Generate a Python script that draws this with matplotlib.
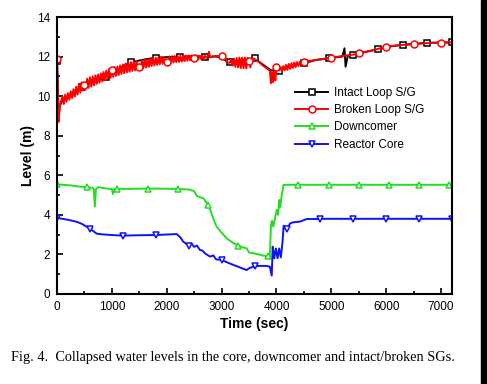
import matplotlib
matplotlib.use("Agg")
import matplotlib.pyplot as plt
from matplotlib.patches import Rectangle
from matplotlib.ticker import MultipleLocator

plt.rcParams['font.family'] = ['Liberation Sans', 'DejaVu Sans']

# ---------------- data ----------------
intact_t = [0, 30, 50, 100, 200, 300, 400, 450, 500, 600, 700, 800, 900, 1000,
            1100, 1200, 1350, 1500, 1650, 1800, 2000, 2250, 2500, 2700, 2900,
            3000, 3100, 3150, 3300, 3450, 3600, 3700, 3800, 3900, 4050, 4200,
            4350, 4500, 4700, 4950, 5200, 5240, 5260, 5300, 5400, 5600, 5850,
            6050, 6300, 6500, 6750, 7000, 7200]
intact_lvl = [11.8, 9.0, 9.5, 9.8, 10.0, 10.2, 10.35, 10.45, 10.5, 10.65, 10.75,
              10.85, 10.95, 11.1, 11.3, 11.5, 11.72, 11.8, 11.88, 11.93, 11.97,
              12.0, 12.02, 11.99, 12.0, 11.95, 11.75, 11.71, 11.8, 11.85, 11.91,
              11.7, 11.5, 11.3, 11.29, 11.45, 11.58, 11.65, 11.82, 11.91, 12.0,
              12.42, 11.49, 12.04, 12.08, 12.22, 12.37, 12.5, 12.6, 12.64, 12.7,
              12.71, 12.72]

# broken-loop S/G: sampled every 25 s where the trace oscillates
broken_t = ([0, 30, 50] + list(range(100, 2751, 25))
            + [2770, 2790, 2850, 2950, 3000, 3050, 3100]
            + list(range(3150, 3551, 25))
            + [3600, 3650, 3700, 3750, 3800, 3850, 3880, 3900, 3920, 3940,
               3960, 3980, 4000, 4025]
            + list(range(4050, 4451, 25))
            + [4500, 4600, 4800, 5000, 5200, 5400, 5500, 5800, 6000, 6250,
               6500, 6750, 7000, 7200])
broken_lvl = [11.88, 8.7, 9.5,
              10.0, 9.6, 10.08, 9.72, 10.15, 9.82, 10.25, 9.9, 10.35, 9.98,
              10.48, 10.08, 10.6, 10.18, 10.7, 10.28, 10.56, 10.38, 10.88, 10.42,
              10.95, 10.48, 11.0, 10.55, 11.05, 10.62, 11.1, 10.68, 11.15, 10.74,
              11.22, 10.8, 11.3, 10.87, 11.38, 10.92, 11.3, 10.97, 11.47, 11.02,
              11.5, 11.07, 11.55, 11.12, 11.6, 11.16, 11.65, 11.2, 11.7, 11.23,
              11.72, 11.27, 11.75, 11.3, 11.78, 11.33, 11.46, 11.38, 11.82, 11.41,
              11.85, 11.44, 11.87, 11.48, 11.9, 11.52, 11.92, 11.55, 11.95, 11.58,
              11.96, 11.61, 11.98, 11.63, 11.99, 11.65, 11.71, 11.67, 12.01, 11.68,
              12.02, 11.7, 12.02, 11.71, 12.03, 11.73, 12.04, 11.75, 12.05, 11.77,
              12.05, 11.79, 12.06, 11.81, 12.06, 11.82, 11.94, 11.84, 12.06, 11.85,
              12.05, 11.87, 12.05, 11.89, 12.04, 11.92, 12.0,
              12.25, 11.95, 12.02, 12.03, 12.03, 11.95, 11.72,
              11.68, 11.85, 11.55, 11.9, 11.48, 11.93, 11.45, 11.95, 11.42, 11.95,
              11.41, 11.95, 11.4, 11.93, 11.8, 11.45, 11.92,
              11.88, 11.78, 11.68, 11.55, 11.45, 11.35, 11.3, 10.65, 11.2, 10.7,
              11.3, 10.8, 11.49, 11.4,
              11.3, 11.45, 11.26, 11.52, 11.3, 11.58, 11.33, 11.63, 11.38, 11.67,
              11.42, 11.7, 11.47, 11.72, 11.52, 11.74, 11.58,
              11.74, 11.78, 11.86, 11.94, 12.03, 12.1, 12.16, 12.35, 12.5, 12.58,
              12.62, 12.68, 12.7, 12.72]

down_t = [0, 100, 200, 300, 400, 550, 650, 670, 690, 710, 750, 800, 900, 1000,
          1020, 1040, 1100, 1300, 1650, 2000, 2200, 2400, 2500, 2550, 2600,
          2667, 2750, 2800, 2850, 2910, 3000, 3093, 3200, 3300, 3400, 3456,
          3500, 3600, 3761, 3850, 3880, 3900, 3920, 3943, 3980, 4005, 4030,
          4053, 4070, 4096, 4130, 4200, 4400, 4950, 5500, 6050, 6600, 7150, 7200]
down_lvl = [5.54, 5.52, 5.5, 5.47, 5.43, 5.4, 5.36, 5.3, 4.42, 5.3, 5.4, 5.38,
            5.33, 5.3, 5.05, 5.3, 5.32, 5.31, 5.33, 5.32, 5.31, 5.28, 5.2, 4.95,
            4.9, 4.84, 4.5, 4.2, 3.8, 3.4, 3.1, 2.81, 2.6, 2.45, 2.35, 2.31, 2.1,
            2.05, 1.94, 1.9, 1.9, 3.5, 3.7, 3.4, 3.9, 4.25, 4.0, 4.75, 4.4, 5.0,
            5.51, 5.52, 5.52, 5.52, 5.52, 5.52, 5.52, 5.52, 5.52]

core_t = [0, 100, 200, 358, 450, 600, 650, 700, 723, 800, 1000, 1200, 1500,
          1800, 2182, 2250, 2303, 2400, 2450, 2500, 2550, 2607, 2650, 2700,
          2789, 2850, 2900, 3000, 3100, 3214, 3300, 3456, 3500, 3600, 3700,
          3822, 3880, 3914, 3932, 3960, 3990, 4020, 4050, 4080, 4110, 4131,
          4160, 4200, 4248, 4300, 4430, 4552, 4734, 4800, 5400, 6000, 6600, 7200]
core_lvl = [3.85, 3.8, 3.75, 3.65, 3.55, 3.3, 3.2, 3.1, 3.05, 3.02, 2.98, 2.95,
            2.97, 2.98, 3.03, 2.85, 2.64, 2.45, 2.55, 2.38, 2.45, 2.22, 2.2, 2.05,
            1.89, 1.95, 1.75, 1.72, 1.6, 1.47, 1.38, 1.21, 1.3, 1.41, 1.42, 1.42,
            1.38, 0.93, 2.39, 1.8, 2.3, 1.8, 2.3, 1.85, 2.6, 3.45, 3.3, 3.3, 3.57,
            3.62, 3.66, 3.79, 3.79, 3.8, 3.8, 3.8, 3.8, 3.8]

series = [
    ("Intact Loop S/G", intact_t, intact_lvl, 'black', 's', 450),
    ("Broken Loop S/G", broken_t, broken_lvl, 'red', 'o', 500),
    ("Downcomer", down_t, down_lvl, '#22dd22', '^', 550),
    ("Reactor Core", core_t, core_lvl, '#1010ff', 'v', 600),
]

caption = "Fig. 4.  Collapsed water levels in the core, downcomer and intact/broken SGs."

# ---------------- figure ----------------
fig = plt.figure(figsize=(4.87, 3.84), dpi=100)
ax = fig.add_axes([57/487, 1-294/384, (452-57)/487, (294-17)/384])

for label, t, y, c, m, step in series:
    every = [i for i, tv in enumerate(t) if tv % step == 0]
    ax.plot(t, y, color=c, lw=1.4, marker=m, markevery=every, ms=5,
            mfc='white', mec=c, mew=1.1, label=label)

ax.set_xlim(0, 7200)
ax.set_ylim(0, 14)
ax.xaxis.set_major_locator(MultipleLocator(1000))
ax.xaxis.set_minor_locator(MultipleLocator(500))
ax.yaxis.set_major_locator(MultipleLocator(2))
ax.yaxis.set_minor_locator(MultipleLocator(1))
ax.tick_params(which='both', direction='in', top=False, right=False,
               width=1.2, labelsize=8.5)
ax.tick_params(which='major', length=4, pad=5)
ax.tick_params(which='minor', length=2.5)
for s in ax.spines.values():
    s.set_linewidth(1.5)

ax.set_xlabel("Time (sec)", fontsize=10, fontweight='bold', labelpad=3)
ax.set_ylabel("Level (m)", fontsize=10, fontweight='bold', labelpad=1.5)

leg = ax.legend(loc='upper left', bbox_to_anchor=(0.603, 0.748), frameon=False,
                fontsize=8.5, handlelength=2.8, handletextpad=0.5,
                labelspacing=0.45, borderpad=0, borderaxespad=0)

fig.text(11/487, 1-357/384, caption, fontsize=10.3, va='center', ha='left',
         family=['Liberation Serif', 'DejaVu Serif'])

fig.patches.append(Rectangle((481/487, 0), 6/487, 1, transform=fig.transFigure,
                             color='black', zorder=10))

fig.savefig("out.png", dpi=100)
